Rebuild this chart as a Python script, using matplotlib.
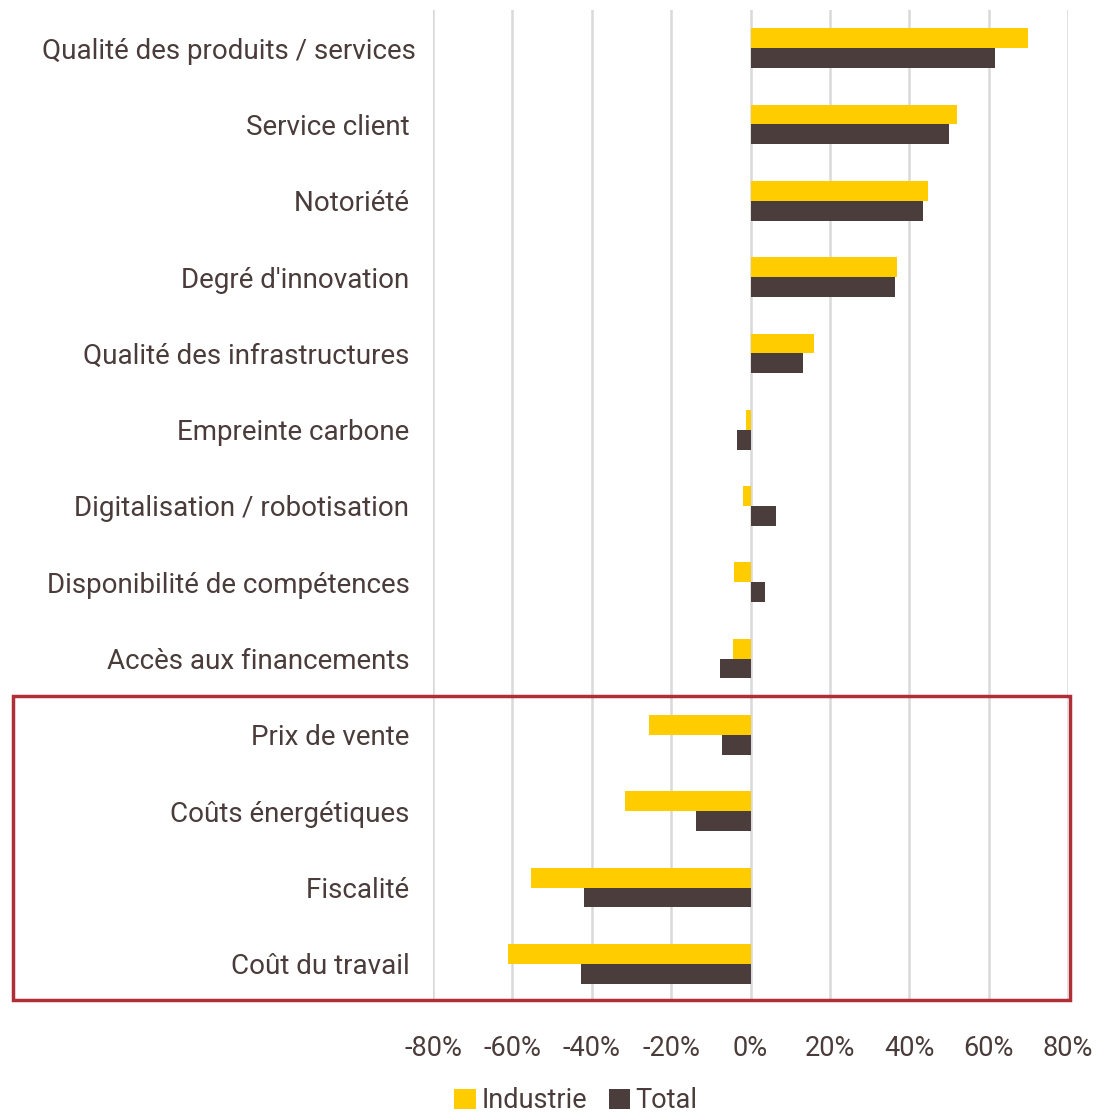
import matplotlib
matplotlib.use("Agg")
import matplotlib.pyplot as plt
from matplotlib.patches import Rectangle
import numpy as np

categories = [
    "Qualité des produits / services",
    "Service client ",
    "Notoriété ",
    "Degré d'innovation ",
    "Qualité des infrastructures ",
    "Empreinte carbone ",
    "Digitalisation / robotisation ",
    "Disponibilité de compétences ",
    "Accès aux financements ",
    "Prix de vente ",
    "Coûts énergétiques ",
    "Fiscalité ",
    "Coût du travail ",
]
industrie = [69.8, 52.0, 44.8, 36.8, 16.0, -1.2, -1.8, -4.2, -4.5, -25.7, -31.7, -55.4, -61.0]
total = [61.5, 50.0, 43.5, 36.4, 13.3, -3.4, 6.3, 3.6, -7.8, -7.3, -13.8, -42.0, -42.8]
xticks = [-80, -60, -40, -20, 0, 20, 40, 60, 80]
xtick_labels = ["-80%", "-60%", "-40%", "-20%", "0%", "20%", "40%", "60%", "80%"]

YELLOW = "#FFCC00"
DARK = "#4B3D3B"
TEXT = "#4A3C3A"
RED = "#B02E35"

plt.rcParams['font.family'] = ['Roboto', 'DejaVu Sans']

W, H = 1097, 1116
fig = plt.figure(figsize=(W / 100, H / 100), dpi=100)
left, right = 433 / W, 1068 / W
top, bottom = 1 - 10 / H, 1 - 1002 / H
ax = fig.add_axes([left, bottom, right - left, top - bottom])

n = len(categories)
y = np.arange(n)
h = 0.26
ax.barh(y - h / 2, industrie, height=h, color=YELLOW, label="Industrie", zorder=3)
ax.barh(y + h / 2, total, height=h, color=DARK, label="Total", zorder=3)

ax.set_ylim(n - 0.5, -0.5)
ax.set_xlim(-80, 80)
ax.set_xticks(xticks)
ax.set_xticklabels(xtick_labels, fontsize=19.5, color=TEXT)
ax.set_yticks(y)
ax.set_yticklabels(categories, fontsize=20, color=TEXT)
ax.tick_params(axis='y', length=0, pad=12)
ax.tick_params(axis='x', length=0, pad=24)
for s in ax.spines.values():
    s.set_visible(False)
ax.xaxis.grid(True, color="#D9D9D9", linewidth=1.8, zorder=0)
ax.yaxis.grid(False)

# red frame around the last four categories
x0, x1 = 13 / W, 1070 / W
y0, y1 = 1 - 1000 / H, 1 - 696 / H
fig.patches.append(Rectangle((x0, y0), x1 - x0, y1 - y0, transform=fig.transFigure,
                             fill=False, edgecolor=RED, linewidth=2.5, zorder=5))

handles, labels = ax.get_legend_handles_labels()
fig.legend(handles, labels, loc="center", bbox_to_anchor=(576 / W, 1 - 1101 / H),
           ncol=2, frameon=False, fontsize=19.5, labelcolor=TEXT,
           handlelength=0.8, handleheight=0.8, handletextpad=0.2, columnspacing=0.8,
           borderpad=0.1)

fig.savefig("out.png", dpi=100)
